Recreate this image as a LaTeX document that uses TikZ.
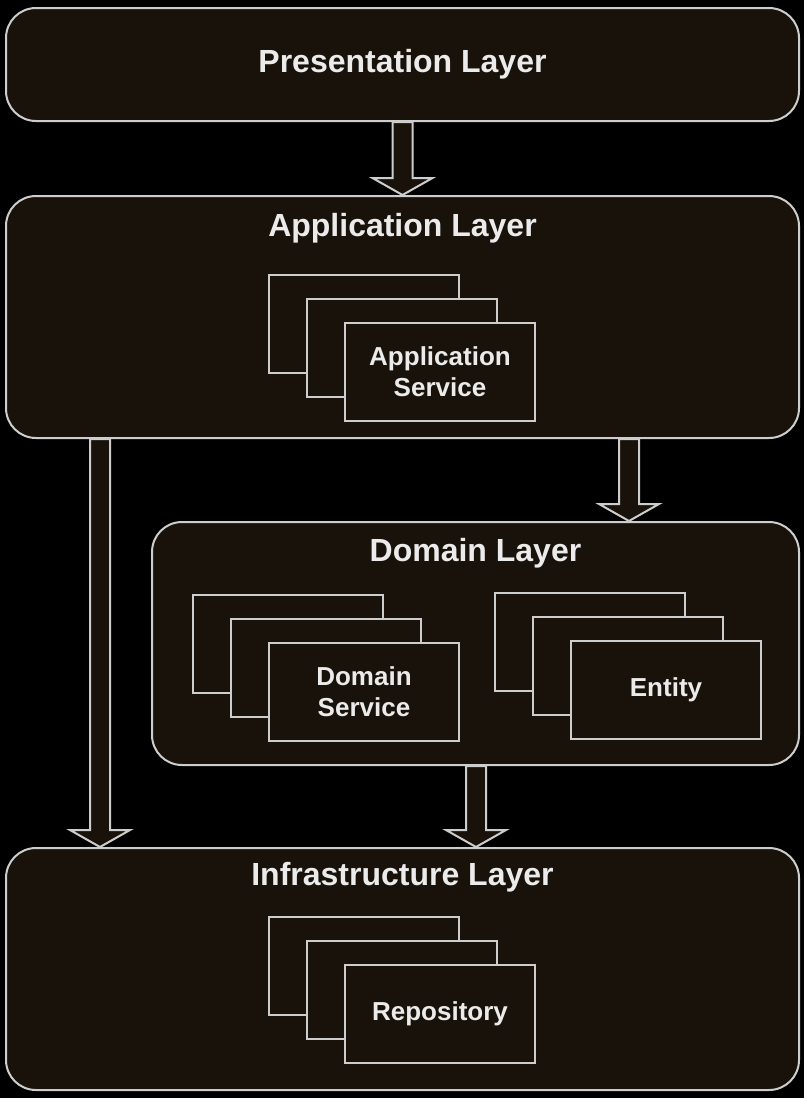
\documentclass[tikz,border=0pt]{standalone}
\usepackage{fontspec}
\setmainfont{Liberation Sans}
\usetikzlibrary{calc}

\definecolor{fondocaja}{RGB}{25,18,10}
\definecolor{borde}{RGB}{205,205,205}
\definecolor{texto}{RGB}{235,235,235}

\tikzset{
  capa/.style={draw=borde, fill=fondocaja, line width=2pt, rounded corners=30pt, inner sep=0pt},
  titulo/.style={text=texto, font=\fontsize{32}{36}\selectfont\bfseries, anchor=base, inner sep=0pt},
  pieza/.style={draw=borde, fill=fondocaja, line width=2pt, minimum width=190pt, minimum height=98pt,
    inner sep=0pt, text=texto, align=center, font=\fontsize{26}{31}\selectfont\bfseries},
  flecha/.style={draw=borde, fill=fondocaja, line width=2pt, line join=miter}
}

% Flecha hueca de #1 (arriba) a #2 (punta)
\newcommand{\flechahueca}[2]{%
  \draw[flecha] let \p1=#1, \p2=#2 in
    (\x1-10pt,\y1) -- (\x1+10pt,\y1) -- (\x1+10pt,\y2+17pt) -- (\x1+30pt,\y2+17pt)
    -- (\x1,\y2) -- (\x1-30pt,\y2+17pt) -- (\x1-10pt,\y2+17pt) -- cycle;}

\begin{document}
\begin{tikzpicture}[x=1pt, y=-1pt]
    % Fondo negro
    \useasboundingbox (0,0) rectangle (804,1098);
    \fill[black] (0,0) rectangle (804,1098);

    % Capas
    \node[capa, minimum width=793pt, minimum height=113pt] (pres) at (402.5,64.5) {};
    \node[capa, minimum width=793pt, minimum height=242pt] (app) at (402.5,317) {};
    \node[capa, minimum width=647pt, minimum height=243pt] (dom) at (475.5,643.5) {};
    \node[capa, minimum width=793pt, minimum height=242pt] (infra) at (402.5,969) {};

    % Titulos de las capas
    \node[titulo] (tit-pres) at ([yshift=-65pt]pres.north) {Presentation Layer};
    \node[titulo] (tit-app) at ([yshift=-41pt]app.north) {Application Layer};
    \node[titulo] (tit-dom) at ([yshift=-40pt]dom.north) {Domain Layer};
    \node[titulo] (tit-infra) at ([yshift=-38pt]infra.north) {Infrastructure Layer};

    % Pilas de tres cajas
    \foreach \nombre/\cx/\cy/\rotulo in {servapp/440/372/{Application\\Service},
        servdom/364/692/{Domain\\Service}, entidad/666/690/Entity, repo/440/1014/Repository} {
        \foreach \k in {2,1}
            \node[pieza] (\nombre-\k) at (\cx-\k*38, \cy-\k*24) {};
        \node[pieza] (\nombre) at (\cx,\cy) {\rotulo};
    }

    % Posiciones de las flechas
    \coordinate (f-izq) at (100,0);
    \coordinate (f-dom) at (629,0);
    \coordinate (f-infra) at (476,0);

    % Flechas entre capas
    \flechahueca{(pres.south -| tit-pres)}{(app.north -| tit-pres)}
    \flechahueca{(app.south -| f-izq)}{(infra.north -| f-izq)}
    \flechahueca{(app.south -| f-dom)}{(dom.north -| f-dom)}
    \flechahueca{(dom.south -| f-infra)}{(infra.north -| f-infra)}

\end{tikzpicture}
\end{document}
